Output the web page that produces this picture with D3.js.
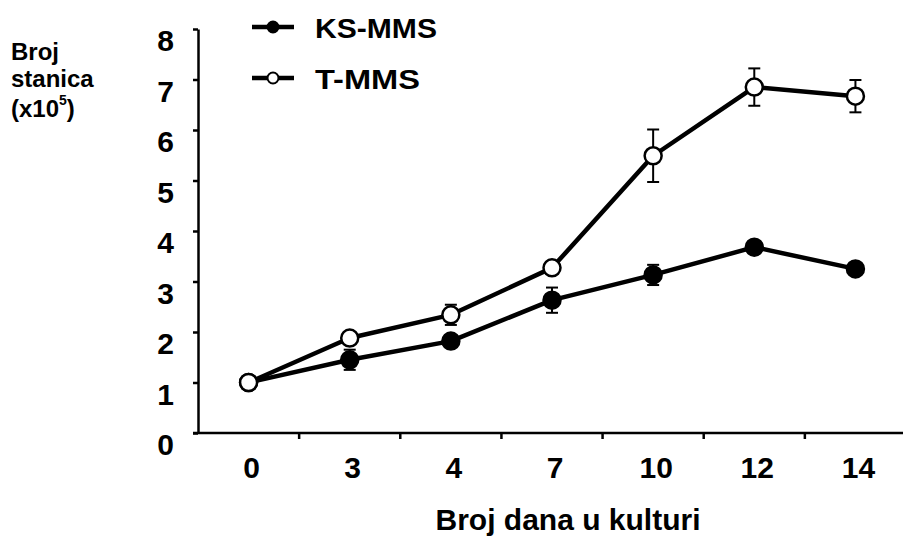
<!DOCTYPE html>
<html>
<head>
<meta charset="utf-8">
<script src="https://cdn.jsdelivr.net/npm/d3@7"></script>
<style>
  body { margin: 0; background: #fff; }
  text { font-family: "Liberation Sans", Arial, sans-serif; font-weight: bold; fill: #000; }
</style>
</head>
<body>
<div id="graph"></div>
<script>
// days in culture (categorical, evenly spaced)
const days = ['0', '3', '4', '7', '10', '12', '14'];
const ksMMS = [1.0, 1.45, 1.82, 2.63, 3.13, 3.68, 3.25];
const ksErr = [0, 0.2, 0.05, 0.25, 0.2, 0.05, 0.05];
const tMMS = [1.0, 1.88, 2.34, 3.27, 5.49, 6.85, 6.67];
const tErr = [0, 0.05, 0.2, 0.05, 0.52, 0.37, 0.32];
const yTicks = [0, 1, 2, 3, 4, 5, 6, 7, 8];

const W = 903, H = 537;
const svg = d3.select('#graph').append('svg').attr('width', W).attr('height', H);

const x = d3.scaleBand().domain(days).range([198, 906]);
const y = d3.scaleLinear().domain([0, 8]).range([433, 29]);
const cx = d => x(d) + x.bandwidth() / 2;

// y axis
const yAxis = svg.append('g').attr('transform', 'translate(198,0)')
    .call(d3.axisLeft(y).tickValues(yTicks).tickSize(5).tickSizeOuter(0).tickFormat(d3.format('d')));
yAxis.select('.domain').attr('stroke-width', 2.5);
yAxis.selectAll('.tick line').attr('stroke-width', 2.5);
yAxis.selectAll('.tick text').attr('x', -24).attr('y', 12).attr('font-size', 30)
    .attr('font-family', '"Liberation Sans", Arial, sans-serif').attr('font-weight', 'bold');

// x axis: labels at category centres, tick marks at band boundaries
const xa = svg.append('g').attr('transform', 'translate(0,433)');
xa.append('line').attr('x1', 193).attr('x2', W).attr('stroke', '#000').attr('stroke-width', 2.5);
xa.selectAll('line.bt').data(days.slice(1)).enter().append('line').attr('class', 'bt')
    .attr('x1', d => x(d)).attr('x2', d => x(d)).attr('y1', 0).attr('y2', 6)
    .attr('stroke', '#000').attr('stroke-width', 2.5);
xa.selectAll('text').data(days).enter().append('text')
    .attr('x', d => cx(d) + 3).attr('y', 45).attr('text-anchor', 'middle')
    .attr('font-size', 30).text(d => d);

// series
const series = [
  { name: 'KS-MMS', vals: ksMMS, err: ksErr, fill: '#000' },
  { name: 'T-MMS', vals: tMMS, err: tErr, fill: '#fff' }
];
const line = d3.line().x((v, i) => cx(days[i])).y(v => y(v));

series.forEach(s => {
  svg.append('path').attr('d', line(s.vals)).attr('fill', 'none')
      .attr('stroke', '#000').attr('stroke-width', 4.5).attr('stroke-linejoin', 'round');
});

series.forEach(s => {
  const g = svg.append('g');
  s.vals.forEach((v, i) => {
    const e = s.err[i];
    if (!e) return;
    const px = cx(days[i]);
    g.append('line').attr('x1', px).attr('x2', px).attr('y1', y(v - e)).attr('y2', y(v + e))
        .attr('stroke', '#000').attr('stroke-width', 2);
    [v - e, v + e].forEach(t => {
      g.append('line').attr('x1', px - 6).attr('x2', px + 6).attr('y1', y(t)).attr('y2', y(t))
          .attr('stroke', '#000').attr('stroke-width', 2);
    });
  });
});

series.forEach(s => {
  svg.selectAll(null).data(s.vals).enter().append('circle')
      .attr('cx', (v, i) => cx(days[i])).attr('cy', v => y(v)).attr('r', 8.5)
      .attr('fill', s.fill).attr('stroke', '#000').attr('stroke-width', 2.5);
});

// legend
const leg = svg.append('g');
series.forEach((s, i) => {
  const ly = 27 + i * 51;
  leg.append('line').attr('x1', 252).attr('x2', 294).attr('y1', ly).attr('y2', ly)
      .attr('stroke', '#000').attr('stroke-width', 4.5);
  leg.append('circle').attr('cx', 273).attr('cy', ly).attr('r', 5.5)
      .attr('fill', s.fill).attr('stroke', '#000').attr('stroke-width', 2);
  leg.append('text').attr('x', 315).attr('y', ly + 11).attr('font-size', 28)
      .attr('textLength', i === 0 ? 122 : 105).attr('lengthAdjust', 'spacingAndGlyphs')
      .text(s.name);
});

// y title
const yt = svg.append('text').attr('font-size', 24);
yt.append('tspan').attr('x', 11).attr('y', 60).text('Broj');
yt.append('tspan').attr('x', 11).attr('y', 87).text('stanica');
const t3 = svg.append('text').attr('font-size', 24).attr('x', 11).attr('y', 117);
t3.append('tspan').text('(x10');
t3.append('tspan').attr('font-size', 14).attr('dy', -12).text('5');
t3.append('tspan').attr('dy', 12).text(')');

// x title
svg.append('text').attr('x', 568).attr('y', 530).attr('font-size', 30)
    .attr('text-anchor', 'middle').text('Broj dana u kulturi');
</script>
</body>
</html>
